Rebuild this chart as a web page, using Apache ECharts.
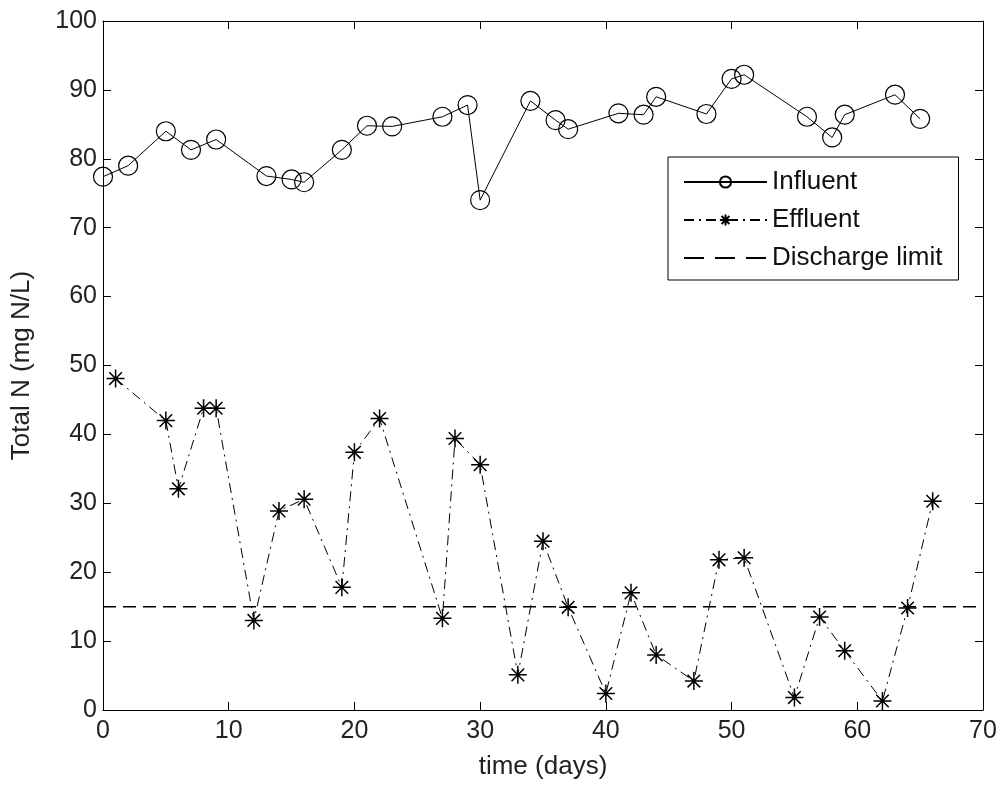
<!DOCTYPE html>
<html>
<head>
<meta charset="utf-8">
<script src="https://cdn.jsdelivr.net/npm/echarts@6/dist/echarts.min.js"></script>
<style>
html,body{margin:0;padding:0;background:#fff;}
#chart{width:1000px;height:786px;}
</style>
</head>
<body>
<div id="chart"></div>
<script>
const influentDays = [0, 2, 5, 7, 9, 13, 15, 16, 19, 21, 23, 27, 29, 30, 34, 36, 37, 41, 43, 44, 48, 50, 51, 56, 58, 59, 63, 65];
const influentValues = [77.4, 79.0, 84.0, 81.3, 82.8, 77.5, 77.0, 76.6, 81.3, 84.8, 84.7, 86.1, 87.8, 74.0, 88.4, 85.6, 84.3, 86.6, 86.4, 89.0, 86.5, 91.6, 92.2, 86.1, 83.1, 86.4, 89.3, 85.8];
const effluentDays = [1, 5, 6, 8, 9, 12, 14, 16, 19, 20, 22, 27, 28, 30, 33, 35, 37, 40, 42, 44, 47, 49, 51, 55, 57, 59, 62, 64, 66];
const effluentValues = [48.1, 42.0, 32.1, 43.8, 43.8, 13.0, 28.9, 30.6, 17.8, 37.4, 42.3, 13.3, 39.4, 35.6, 5.1, 24.5, 14.9, 2.4, 17.0, 8.0, 4.2, 21.8, 22.1, 1.8, 13.5, 8.6, 1.3, 14.8, 30.3];
const limitDays = [0, 70];
const limitValues = [15, 15];
const xTicks = [0, 10, 20, 30, 40, 50, 60, 70];
const yTicks = [0, 10, 20, 30, 40, 50, 60, 70, 80, 90, 100];

const FONT = 'Liberation Sans';
const asterisk = 'path://M0,-10L0,10M-10,0L10,0M-7,-7L7,7M-7,7L7,-7';

const chart = echarts.init(document.getElementById('chart'), null, {renderer: 'canvas'});
const pairs = (xs, ys) => xs.map((x, i) => [x, ys[i]]);

const hiddenAxisCommon = {
  axisLine: {show: true, onZero: false, lineStyle: {color: '#000', width: 1}},
  axisTick: {show: true, inside: true, length: 8, lineStyle: {color: '#000'}},
  axisLabel: {show: false},
  splitLine: {show: false}
};

chart.setOption({
  animation: false,
  backgroundColor: '#fff',
  grid: {left: 103, right: 17, top: 21, bottom: 76, containLabel: false},
  legend: {
    orient: 'vertical',
    left: 668, top: 157,
    padding: [12, 16, 9, 15],
    itemWidth: 83, itemHeight: 14, itemGap: 12,
    backgroundColor: '#fff',
    borderColor: '#000', borderWidth: 1, borderRadius: 0,
    textStyle: {fontFamily: FONT, fontSize: 26, color: '#111'},
    data: ['Influent', 'Effluent',
      {name: 'Discharge limit', itemStyle: {opacity: 0},
       lineStyle: {color: '#000', type: [20, 11], width: 2}}]
  },
  xAxis: [{
    type: 'value', min: 0, max: 70, interval: 10, position: 'bottom',
    name: 'time (days)', nameLocation: 'middle', nameGap: 44,
    nameTextStyle: {fontFamily: FONT, fontSize: 26, color: '#222'},
    axisLine: {show: true, onZero: false, lineStyle: {color: '#000', width: 1}},
    axisTick: {show: true, inside: true, length: 8, lineStyle: {color: '#000'}},
    axisLabel: {fontFamily: FONT, fontSize: 25, color: '#222', margin: 9,
      formatter: v => xTicks.includes(v) ? String(v) : ''},
    splitLine: {show: false}
  }, Object.assign({type: 'value', min: 0, max: 70, interval: 10, position: 'top'}, hiddenAxisCommon)],
  yAxis: [{
    type: 'value', min: 0, max: 100, interval: 10, position: 'left',
    name: 'Total N (mg N/L)', nameLocation: 'middle', nameGap: 68,
    nameTextStyle: {fontFamily: FONT, fontSize: 26, color: '#222'},
    axisLine: {show: true, onZero: false, lineStyle: {color: '#000', width: 1}},
    axisTick: {show: true, inside: true, length: 8, lineStyle: {color: '#000'}},
    axisLabel: {fontFamily: FONT, fontSize: 25, color: '#222', margin: 6,
      formatter: v => yTicks.includes(v) ? String(v) : ''},
    splitLine: {show: false}
  }, Object.assign({type: 'value', min: 0, max: 100, interval: 10, position: 'right'}, hiddenAxisCommon)],
  series: [{
    name: 'Discharge limit', type: 'line',
    data: pairs(limitDays, limitValues),
    showSymbol: false, symbol: 'none',
    lineStyle: {color: '#000', width: 1.5, type: [13, 7]},
    itemStyle: {color: '#000'},
    z: 2
  }, {
    name: 'Effluent', type: 'line',
    data: pairs(effluentDays, effluentValues),
    symbol: asterisk, symbolSize: 18,
    lineStyle: {color: '#000', width: 1, type: [10, 5, 2, 5]},
    itemStyle: {color: '#000', borderColor: '#000', borderWidth: 1.5},
    z: 3
  }, {
    name: 'Influent', type: 'line',
    data: pairs(influentDays, influentValues),
    symbol: 'circle', symbolSize: 19,
    lineStyle: {color: '#000', width: 1},
    itemStyle: {color: 'rgba(0,0,0,0)', borderColor: '#000', borderWidth: 1.2},
    z: 4
  }]
});
</script>
</body>
</html>
